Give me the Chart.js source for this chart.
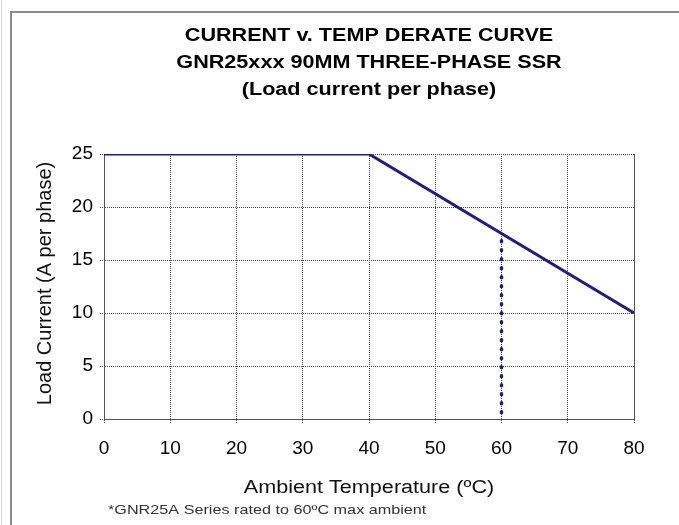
<!DOCTYPE html>
<html>
<head>
<meta charset="utf-8">
<script src="https://cdn.jsdelivr.net/npm/chart.js@4"></script>
<style>
  html, body { margin: 0; padding: 0; background: #fff; }
  canvas { display: block; }
</style>
</head>
<body>
<canvas id="derate" width="679" height="525"></canvas>
<script>
// derate curve
const tempC = [0, 40, 80];
const loadA = [25, 25, 10];
const ratedTemp = [60, 60];
const ratedLoad = [0.6, 17.5];
const xTickValues = [0, 10, 20, 30, 40, 50, 60, 70, 80];
const yTickValues = [0, 5, 10, 15, 20, 25];

const titleLines = [
  'CURRENT v. TEMP DERATE CURVE',
  'GNR25xxx 90MM THREE-PHASE SSR',
  '(Load current per phase)'
];
const xTitle = 'Ambient Temperature (\u00BAC)';
const yTitle = 'Load Current (A per phase)';
const footnote = '*GNR25A Series rated to 60\u00BAC max ambient';

const FONT = "'Liberation Sans', Arial, sans-serif";
const NAVY = '#1c1c8e';
const GRID = '#474747';

function toPoints(xs, ys) {
  return xs.map((x, i) => ({ x: x, y: ys[i] }));
}

// the source image looks stretched sideways, so text is drawn a bit wide
function wideText(ctx, text, x, y, align, sx) {
  ctx.save();
  ctx.translate(x, y);
  ctx.scale(sx, 1);
  ctx.textAlign = align;
  ctx.fillText(text, 0, 0);
  ctx.restore();
}

const decorations = {
  id: 'decorations',
  beforeDraw(chart) {
    const ctx = chart.ctx;
    ctx.save();
    ctx.fillStyle = '#fff';
    ctx.fillRect(0, 0, chart.width, chart.height);
    // outer frame of the screenshot
    ctx.strokeStyle = '#d4d4d4';
    ctx.lineWidth = 1;
    ctx.beginPath();
    ctx.moveTo(1.5, 0);
    ctx.lineTo(1.5, chart.height);
    ctx.stroke();
    ctx.strokeStyle = '#8c8c8c';
    ctx.lineWidth = 2;
    ctx.beginPath();
    ctx.moveTo(11, chart.height);
    ctx.lineTo(11, 12);
    ctx.lineTo(chart.width, 12);
    ctx.stroke();
    ctx.restore();
  },
  afterDraw(chart) {
    const ctx = chart.ctx;
    const a = chart.chartArea;
    const cx = (a.left + a.right) / 2;
    ctx.save();
    // right edge of the plot box
    ctx.strokeStyle = '#555';
    ctx.lineWidth = 1;
    ctx.beginPath();
    ctx.moveTo(Math.round(a.right) + 0.5, a.top);
    ctx.lineTo(Math.round(a.right) + 0.5, a.bottom);
    ctx.stroke();

    ctx.fillStyle = '#000';
    ctx.textBaseline = 'alphabetic';
    ctx.font = 'bold 18px ' + FONT;
    titleLines.forEach((t, i) => wideText(ctx, t, cx, 41 + i * 27, 'center', 1.2));

    ctx.fillStyle = '#111';
    ctx.font = '18px ' + FONT;
    wideText(ctx, xTitle, cx, 493, 'center', 1.2);

    ctx.fillStyle = '#333';
    ctx.font = '13.5px ' + FONT;
    wideText(ctx, footnote, 108, 514, 'left', 1.2);

    ctx.fillStyle = '#111';
    ctx.font = '20px ' + FONT;
    ctx.translate(51, (a.top + a.bottom) / 2 - 3);
    ctx.rotate(-Math.PI / 2);
    ctx.textAlign = 'center';
    ctx.fillText(yTitle, 0, 0);
    ctx.restore();
  }
};

new Chart(document.getElementById('derate'), {
  type: 'line',
  data: {
    datasets: [
      {
        label: 'Derate',
        data: toPoints(tempC, loadA),
        borderColor: NAVY,
        borderWidth: 3,
        pointRadius: 0,
        fill: false,
        tension: 0
      },
      {
        label: 'Rated ambient',
        data: toPoints(ratedTemp, ratedLoad),
        borderColor: NAVY,
        borderWidth: 3.5,
        borderCapStyle: 'round',
        borderDash: [0.8, 8.2],
        pointRadius: 0,
        fill: false
      }
    ]
  },
  options: {
    responsive: false,
    animation: false,
    devicePixelRatio: 1,
    layout: { padding: { top: 154, right: 45, left: 0, bottom: 0 } },
    plugins: {
      legend: { display: false },
      title: { display: false },
      tooltip: { enabled: false }
    },
    scales: {
      x: {
        type: 'linear',
        min: 0,
        max: 80,
        afterBuildTicks: s => { s.ticks = xTickValues.map(v => ({ value: v })); },
        afterFit: s => { s.height = 106; },
        ticks: {
          color: '#000',
          font: { family: FONT, size: 19 },
          padding: 13,
          maxRotation: 0,
          autoSkip: false
        },
        grid: {
          color: GRID,
          lineWidth: 1,
          tickLength: 5,
          tickColor: GRID,
          tickBorderDash: [1, 1]
        },
        border: { display: true, color: '#555', width: 1, dash: [1, 1] }
      },
      y: {
        type: 'linear',
        min: 0,
        max: 25,
        afterBuildTicks: s => { s.ticks = yTickValues.map(v => ({ value: v })); },
        afterFit: s => { s.width = 104; },
        ticks: {
          color: '#000',
          font: { family: FONT, size: 19 },
          padding: 7,
          autoSkip: false
        },
        grid: {
          color: GRID,
          lineWidth: 1,
          tickLength: 4,
          tickColor: GRID,
          tickBorderDash: [1, 1]
        },
        border: { display: true, color: '#555', width: 1, dash: [1, 1] }
      }
    }
  },
  plugins: [decorations]
});
</script>
</body>
</html>
